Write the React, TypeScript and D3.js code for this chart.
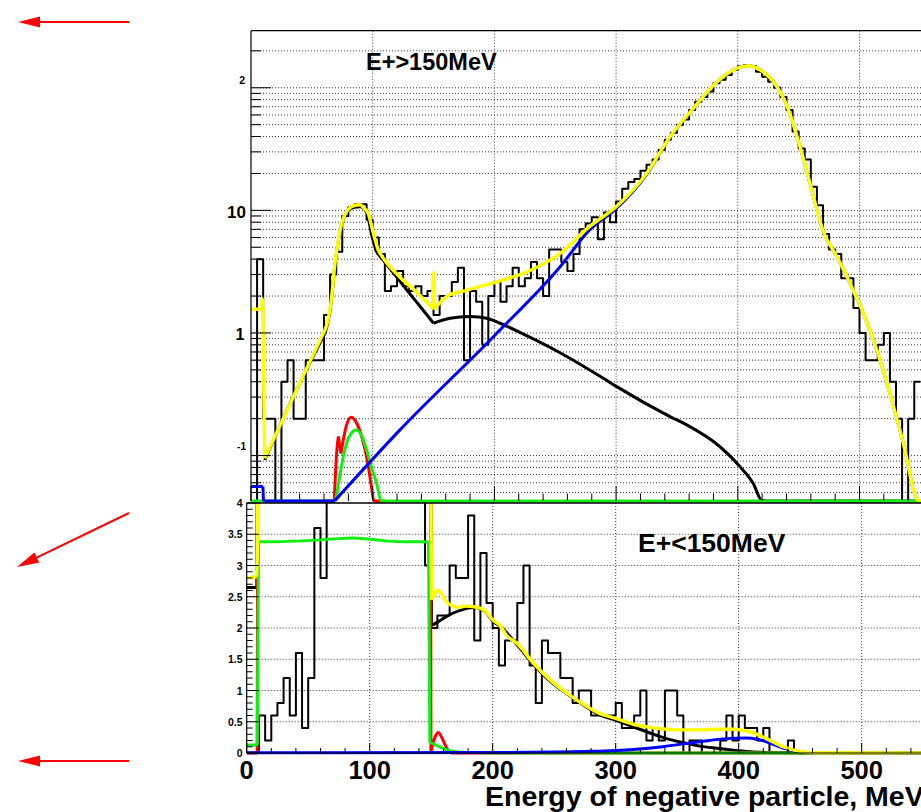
import React from 'react';
import * as d3 from 'd3';

// ---------------- data ----------------
const BIN = 5; // MeV per histogram bin, bins start at 0

// upper pad (E+>150MeV), log scale, bin contents for bins 0,5,10,...,545
const topCounts: number[] = [
  0, 4.0, 0.2, 0.2, 0, 0.4, 0.6, 0.2, 0.2, 0.6,
  0.6, 0.6, 1.4, 3.0, 4.6, 9.0, 10.6, 11.2, 11.2, 8.4,
  6.0, 4.4, 2.2, 2.4, 3.2, 2.4, 2.2, 2.4, 2.0, 2.2,
  1.4, 2.0, 2.0, 2.6, 3.4, 0.6, 2.2, 1.8, 0.8, 2.0,
  2.6, 1.8, 2.4, 3.4, 2.4, 2.8, 3.8, 2.8, 2.0, 4.8,
  4.8, 3.8, 3.2, 4.4, 7.0, 7.8, 8.8, 5.8, 9.6, 8.0,
  11.8, 15, 17, 18, 21, 23.6, 26, 31, 37.6, 43,
  50, 55, 66, 77, 84, 93, 109, 116, 127, 140,
  150, 153, 150, 135, 123, 112, 100, 84, 66, 44,
  32, 26, 15.6, 11, 6.4, 4.8, 4.4, 2.8, 2.8, 1.6,
  1.0, 0.6, 0.6, 0.8, 1.0, 0.4, 0.2, 0, 0.2, 0.4,
];

// lower pad (E+<150MeV), linear scale, bins 0,5,...,545 (bins 65..140 run off the top)
const lowCounts: number[] = [
  0, 0, 0.6, 0.2, 0.6, 0.8, 1.2, 0.6, 1.6, 0.4,
  1.2, 3.6, 2.8, 6.0, 7.2, 8.0, 7.6, 9.0, 8.4, 8.8,
  8.0, 7.0, 6.6, 6.0, 5.4, 5.0, 4.8, 4.6, 4.4, 3.0,
  2.0, 2.2, 2.2, 3.0, 2.8, 2.8, 3.8, 1.8, 3.2, 2.4,
  2.0, 1.4, 1.8, 1.8, 2.4, 3.0, 1.4, 0.8, 1.8, 1.6,
  1.6, 1.2, 1.2, 0.8, 1.0, 1.0, 0.6, 0.6, 0.6, 0.6,
  0.8, 0.4, 0.4, 0.6, 1.0, 0.2, 0.4, 0.2, 1.0, 1.0,
  0.6, 0, 0.2, 0.2, 0, 0, 0, 0.2, 0.6, 0.2,
  0.6, 0.4, 0.4, 0.2, 0.4, 0, 0, 0, 0.2, 0,
  0, 0, 0, 0, 0, 0, 0, 0, 0, 0,
  0, 0, 0, 0, 0, 0, 0, 0, 0, 0,
];

type P = [number, number];

// fitted curves, upper pad (each curve = list of smooth pieces joined at kinks)
const topBlack: P[][] = [
  [[11.3, 0.092], [30, 0.24], [45, 0.49], [60.8, 1.0]],
  [[60.8, 1.0], [63, 1.2], [65.7, 1.72], [69, 3.6], [74.5, 7.7], [80, 10.0], [85, 10.6],
   [89.6, 10.7], [95, 9.7], [99, 6.4], [103, 4.6]],
  [[103, 4.6], [115, 3.27], [130, 2.12], [140, 1.6], [150, 1.2]],
  [[150, 1.2], [163.5, 1.32], [180, 1.36], [193.7, 1.32], [204.6, 1.2], [226.5, 0.95],
   [253.9, 0.69], [289.5, 0.427], [300.5, 0.365], [344.3, 0.208], [358, 0.178],
   [385.4, 0.118], [401.9, 0.081], [412.8, 0.059], [419.7, 0.043], [425, 0.02], [600, 0.001]],
];
const topBlue: P[][] = [
  [[0, 0.056], [9.8, 0.056]],
  [[9.8, 0.056], [10.2, 0.001]],
  [[10.2, 0.001], [69, 0.001]],
  [[69, 0.043], [122.4, 0.162], [200, 0.95], [254, 3.47], [278, 6.9], [300, 10.3], [325, 19.6],
   [344.3, 39.6], [363.5, 67.8], [380, 104.8], [399, 144], [408.6, 151], [418.2, 140],
   [429.2, 112], [440.2, 72], [451.1, 33], [459.3, 16.6], [470.3, 6.7], [481.3, 4.2],
   [492.2, 2.54], [503.1, 1.45], [514.1, 0.73], [525, 0.32], [536, 0.126], [548.3, 0.043], [560, 0.01]],
];
const topRed: P[][] = [
  [[60, 0.001], [68.4, 0.001]],
  [[68.4, 0.04], [70.5, 0.11], [71.8, 0.143]],
  [[71.8, 0.143], [73.9, 0.104]],
  [[73.9, 0.104], [78, 0.17], [82.2, 0.205], [86, 0.19], [89.6, 0.157], [93, 0.12],
   [96.4, 0.082], [99, 0.055], [101, 0.04], [110, 0.001]],
];
const topGreen: P[][] = [
  [[0, 0.001], [69.5, 0.001]],
  [[69.5, 0.04], [72, 0.06], [75.8, 0.098], [80, 0.138], [86.3, 0.162], [91, 0.145],
   [95, 0.111], [99, 0.08], [103.3, 0.059], [106.8, 0.043], [112, 0.02], [120, 0.005], [600, 0.001]],
];
const topYellow: P[][] = [
  [[0, 1.56], [8.6, 1.56]],
  [[8.6, 1.56], [9.2, 1.9], [9.6, 1.6]],
  [[9.6, 1.6], [11.3, 0.095]],
  [[11.3, 0.095], [40, 0.39], [60.8, 1.06]],
  [[60.8, 1.06], [63, 1.25], [65.7, 1.76], [69, 3.7], [74.5, 7.8], [80, 10.2], [85.5, 11.0],
   [89.6, 11.1], [93, 10.4], [96.4, 9.4], [100.5, 6.5], [104.6, 4.7]],
  [[104.6, 4.7], [110, 3.9], [122.4, 2.85], [135, 2.2], [149.3, 1.59]],
  [[149.3, 1.59], [149.7, 3.1], [150.3, 1.55]],
  [[150.3, 1.55], [161.4, 2.0], [178, 2.24], [202.6, 2.62], [227, 3.16], [243.6, 3.82],
   [254.5, 4.5], [278, 7.36], [300, 10.7], [325, 20], [344.3, 39.9], [363.5, 68], [380, 105],
   [399, 144], [408.6, 151], [418.2, 140], [429.2, 112], [440.2, 72], [451.1, 33],
   [459.3, 16.6], [470.3, 6.7], [481.3, 4.2], [492.2, 2.54], [503.1, 1.45], [514.1, 0.73],
   [525, 0.32], [536, 0.126], [548.3, 0.043], [560, 0.01]],
];

// fitted curves, lower pad
const lowBlack: P[][] = [
  [[0, 2.65], [8.2, 2.65]],
  [[8.2, 2.65], [9.0, 6]],
  [[149.4, 6], [150.2, 2.04]],
  [[150.2, 2.04], [155, 2.09], [161.2, 2.17], [168, 2.24], [174.8, 2.29], [180, 2.32],
   [185.4, 2.33], [193.5, 2.27], [200.5, 2.1], [205.9, 2.03], [219.5, 1.74], [233, 1.42],
   [246.6, 1.15], [260.1, 0.95], [273.6, 0.77], [287.2, 0.61], [300.7, 0.52], [314.3, 0.42],
   [327.8, 0.32], [341.3, 0.23], [354.9, 0.165], [368.4, 0.11], [382, 0.075], [395.5, 0.045],
   [409, 0.022], [422.6, 0.01], [440, 0.003], [600, 0]],
];
const lowBlue: P[][] = [
  [[0, 0.005], [200, 0.008], [250, 0.015], [276, 0.025], [300, 0.04], [314, 0.055],
   [330.6, 0.085], [341.3, 0.11], [368.4, 0.18], [390, 0.23], [406.3, 0.24], [415, 0.22],
   [422.6, 0.18], [436.1, 0.08], [449.7, 0.02], [462, 0.003], [600, 0]],
];
const lowRed: P[][] = [
  [[0, 0], [8.5, 0]],
  [[8.5, 0], [9.2, 6]],
  [[149.3, 6], [149.8, 0.02]],
  [[149.8, 0.02], [153, 0.25], [155.8, 0.33], [158.5, 0.25], [162.6, 0.08], [166.5, 0], [600, 0]],
];
const lowGreen: P[][] = [
  [[0, 0.13], [8.6, 0.13]],
  [[8.6, 0.13], [9.6, 3.38]],
  [[9.6, 3.38], [20, 3.38], [40, 3.39], [60, 3.41], [75, 3.43], [86.7, 3.44], [100, 3.42],
   [115, 3.39], [130, 3.38], [147.8, 3.38]],
  [[147.8, 3.38], [148.9, 0.17]],
  [[148.9, 0.17], [150, 0.16], [157, 0.1], [163, 0.05], [168, 0.025], [180, 0.008], [200, 0.002], [600, 0]],
];
const lowYellow: P[][] = [
  [[0, 2.8], [8, 2.82]],
  [[8, 2.82], [8.8, 3.4], [9.5, 6]],
  [[149.0, 6], [150.3, 2.45]],
  [[150.3, 2.45], [152, 2.52], [155.4, 2.61], [158, 2.55], [161, 2.45], [166.5, 2.36],
   [172, 2.33], [178, 2.35], [185, 2.34], [193.5, 2.28], [200.5, 2.12], [205.9, 2.04],
   [211.4, 1.88], [219.5, 1.76], [233, 1.44], [246.6, 1.17], [260.1, 0.96], [273.6, 0.78],
   [287.2, 0.63], [300.7, 0.55], [314.3, 0.46], [327.8, 0.41], [341.3, 0.38], [354.9, 0.37],
   [368.4, 0.37], [382, 0.38], [395.5, 0.38], [409, 0.34], [422.6, 0.23], [436.1, 0.1],
   [449.7, 0.025], [463, 0.005], [600, 0]],
];

const xMajor = [0, 100, 200, 300, 400, 500, 600];
const xLabels = ['0', '100', '200', '300', '400', '500'];
const lowYLabels = ['0', '0.5', '1', '1.5', '2', '2.5', '3', '3.5', '4'];
const topTitle = 'E+>150MeV';
const lowTitle = 'E+<150MeV';
const xTitle = 'Energy of negative particle, MeV';

const FONT = '"Liberation Sans", Arial, Helvetica, sans-serif';
const GREEN = '#10f010';

function Arrow({ x1, y1, x2, y2 }: { x1: number; y1: number; x2: number; y2: number }) {
  const dx = x2 - x1, dy = y2 - y1;
  const L = Math.hypot(dx, dy);
  const ux = dx / L, uy = dy / L;
  const hl = 22, hw = 5.5;
  const bx = x2 - ux * hl, by = y2 - uy * hl;
  const px = -uy * hw, py = ux * hw;
  return (
    <g>
      <line x1={x1} y1={y1} x2={bx + ux * 2} y2={by + uy * 2} stroke="#ff0000" strokeWidth={2} />
      <polygon points={`${x2},${y2} ${bx + px},${by + py} ${bx - px},${by - py}`} fill="#ff0000" />
    </g>
  );
}

export default function App() {
  const W = 921, H = 812;
  // upper pad
  const tL = 251, tT = 30.7, tB = 501;
  const xT = d3.scaleLinear().domain([0, 600]).range([tL, tL + 6 * 121.7]);
  const yMin = 0.0426, yMax = 292;
  const yT = d3.scaleLog().domain([yMin, yMax]).range([tB, tT]);
  const cT = (v: number) => yT(Math.min(yMax, Math.max(yMin, v)));
  // lower pad
  const lL = 246.7, lT = 503, lB = 753;
  const xL = d3.scaleLinear().domain([0, 600]).range([lL, lL + 6 * 123]);
  const yL = d3.scaleLinear().domain([0, 4]).range([lB, lT]);

  const histT = d3.line<P>().x(d => xT(d[0])).y(d => cT(d[1])).curve(d3.curveStepAfter);
  const histL = d3.line<P>().x(d => xL(d[0])).y(d => yL(d[1])).curve(d3.curveStepAfter);
  const topHistPts: P[] = topCounts.map((v, i) => [i * BIN, v] as P).concat([[topCounts.length * BIN, topCounts[topCounts.length - 1]]]);
  const lowHistPts: P[] = lowCounts.map((v, i) => [i * BIN, v] as P).concat([[lowCounts.length * BIN, lowCounts[lowCounts.length - 1]]]);

  const fT = d3.line<P>().x(d => xT(d[0])).y(d => cT(d[1])).curve(d3.curveMonotoneX);
  const fL = d3.line<P>().x(d => xL(d[0])).y(d => yL(d[1])).curve(d3.curveMonotoneX);
  const pathT = (segs: P[][]) => segs.map(s => fT(s) || '').join(' ');
  const pathL = (segs: P[][]) => segs.map(s => fL(s) || '').join(' ');

  const logTicks = yT.ticks();
  const isDecade = (v: number) => Math.abs(Math.log10(v) - Math.round(Math.log10(v))) < 1e-6;
  const minorX = d3.range(0, 601, 20);
  const lowMinorY = d3.range(0, 4.0001, 0.1);
  const lowMajorY = d3.range(0, 4.0001, 0.5);

  const grid = { stroke: '#3a3a3a', strokeWidth: 1, strokeDasharray: '1 2' } as const;
  const curveW = 3;
  const lj = { fill: 'none', strokeLinejoin: 'round' as const };

  return (
    <svg width={W} height={H} viewBox={`0 0 ${W} ${H}`}
      style={{ position: 'absolute', left: 0, top: 0, background: '#fff' }}>
      <defs>
        <clipPath id="clipTop"><rect x={tL} y={tT} width={800} height={tB - tT + 2} /></clipPath>
        <clipPath id="clipLow"><rect x={lL} y={lT} width={800} height={lB - lT + 2.5} /></clipPath>
      </defs>
      <rect x={0} y={0} width={W} height={H} fill="#fff" />

      {/* ---------- upper pad ---------- */}
      <g>
        {logTicks.filter(v => v > yMin && v < yMax).map((v, i) => (
          <line key={'tg' + i} x1={tL} x2={W} y1={yT(v)} y2={yT(v)} {...grid} />
        ))}
        {xMajor.slice(1).map((v, i) => (
          <line key={'tvg' + i} x1={xT(v)} x2={xT(v)} y1={tT} y2={tB} {...grid} />
        ))}
        <g clipPath="url(#clipTop)">
          <path d={histT(topHistPts) || ''} {...lj} stroke="#000" strokeWidth={2} />
          <path d={pathT(topBlack)} {...lj} stroke="#000" strokeWidth={curveW} />
          <path d={pathT(topRed)} {...lj} stroke="#ff0000" strokeWidth={curveW} />
          <path d={pathT(topGreen)} {...lj} stroke={GREEN} strokeWidth={curveW} />
          <path d={pathT(topBlue)} {...lj} stroke="#0000ff" strokeWidth={curveW} />
          <path d={pathT(topYellow)} {...lj} stroke="#ffff00" strokeWidth={3.4} />
        </g>
        {/* frame */}
        <line x1={tL} x2={tL} y1={tT} y2={tB} stroke="#000" strokeWidth={1.2} />
        <line x1={tL} x2={W} y1={tT} y2={tT} stroke="#000" strokeWidth={1.2} />
        {/* y ticks */}
        {logTicks.filter(v => v > yMin && v < yMax).map((v, i) => (
          <line key={'tyt' + i} x1={tL} x2={tL + (isDecade(v) ? 20 : 10)} y1={yT(v)} y2={yT(v)} stroke="#000" strokeWidth={1} />
        ))}
        {/* x ticks on bottom */}
        {minorX.map((v, i) => (
          <line key={'txt' + i} x1={xT(v)} x2={xT(v)} y1={tB} y2={tB - (v % 100 === 0 ? 15 : 7.5)} stroke="#000" strokeWidth={1} />
        ))}
        {/* y labels */}
        <text x={245} y={84} fontSize={10.5} fontWeight="bold" textAnchor="end" fontFamily={FONT}>2</text>
        <text x={246} y={218} fontSize={17} fontWeight="bold" textAnchor="end" fontFamily={FONT}>10</text>
        <text x={244.5} y={340} fontSize={16} fontWeight="bold" textAnchor="end" fontFamily={FONT}>1</text>
        <text x={246} y={449.5} fontSize={10} fontWeight="bold" textAnchor="end" fontFamily={FONT}>-1</text>
        <text x={366} y={70} fontSize={23.5} fontWeight="bold" fontFamily={FONT}>{topTitle}</text>
      </g>

      {/* ---------- lower pad ---------- */}
      <g>
        {lowMajorY.filter(v => v > 0 && v < 4).map((v, i) => (
          <line key={'lg' + i} x1={lL} x2={W} y1={yL(v)} y2={yL(v)} {...grid} />
        ))}
        {xMajor.slice(1).map((v, i) => (
          <line key={'lvg' + i} x1={xL(v)} x2={xL(v)} y1={lT} y2={lB} {...grid} />
        ))}
        <g clipPath="url(#clipLow)">
          <path d={histL(lowHistPts) || ''} {...lj} stroke="#000" strokeWidth={2} />
          <path d={pathL(lowBlack)} {...lj} stroke="#000" strokeWidth={curveW} />
          <path d={pathL(lowRed)} {...lj} stroke="#ff0000" strokeWidth={curveW} />
          <path d={pathL(lowGreen)} {...lj} stroke={GREEN} strokeWidth={curveW} />
          <path d={pathL(lowBlue)} {...lj} stroke="#0000ff" strokeWidth={curveW} />
          <path d={pathL(lowYellow)} {...lj} stroke="#ffff00" strokeWidth={3.4} />
        </g>
        <line x1={lL} x2={lL} y1={lT} y2={lB} stroke="#000" strokeWidth={1.2} />
        <line x1={lL} x2={W} y1={lT} y2={lT} stroke="#000" strokeWidth={1.6} />
        <line x1={lL} x2={W} y1={lB} y2={lB} stroke="#000" strokeWidth={1} />
        {lowMinorY.map((v, i) => (
          <line key={'lyt' + i} x1={lL} x2={lL + (i % 5 === 0 ? 12 : 6)} y1={yL(v)} y2={yL(v)} stroke="#000" strokeWidth={1} />
        ))}
        {minorX.map((v, i) => (
          <line key={'lxt' + i} x1={xL(v)} x2={xL(v)} y1={lB} y2={lB - (v % 100 === 0 ? 10 : 5)} stroke="#000" strokeWidth={1} />
        ))}
        {lowMajorY.map((v, i) => (
          <text key={'lyl' + i} x={242.5} y={yL(v) + 4} fontSize={10.5} fontWeight="bold" textAnchor="end" fontFamily={FONT}>{lowYLabels[i]}</text>
        ))}
        {xLabels.map((s, i) => (
          <text key={'lxl' + i} x={xL(xMajor[i])} y={779} fontSize={25.5} fontWeight="bold" textAnchor="middle" fontFamily={FONT}>{s}</text>
        ))}
        <text x={485} y={806} fontSize={28.5} fontWeight="bold" fontFamily={FONT}>{xTitle}</text>
        <text x={638} y={552} fontSize={26.5} fontWeight="bold" fontFamily={FONT}>{lowTitle}</text>
      </g>

      {/* ---------- arrows ---------- */}
      <Arrow x1={129} y1={22} x2={18} y2={22} />
      <Arrow x1={129} y1={513} x2={17} y2={567} />
      <Arrow x1={129} y1={761} x2={18} y2={761} />
    </svg>
  );
}
